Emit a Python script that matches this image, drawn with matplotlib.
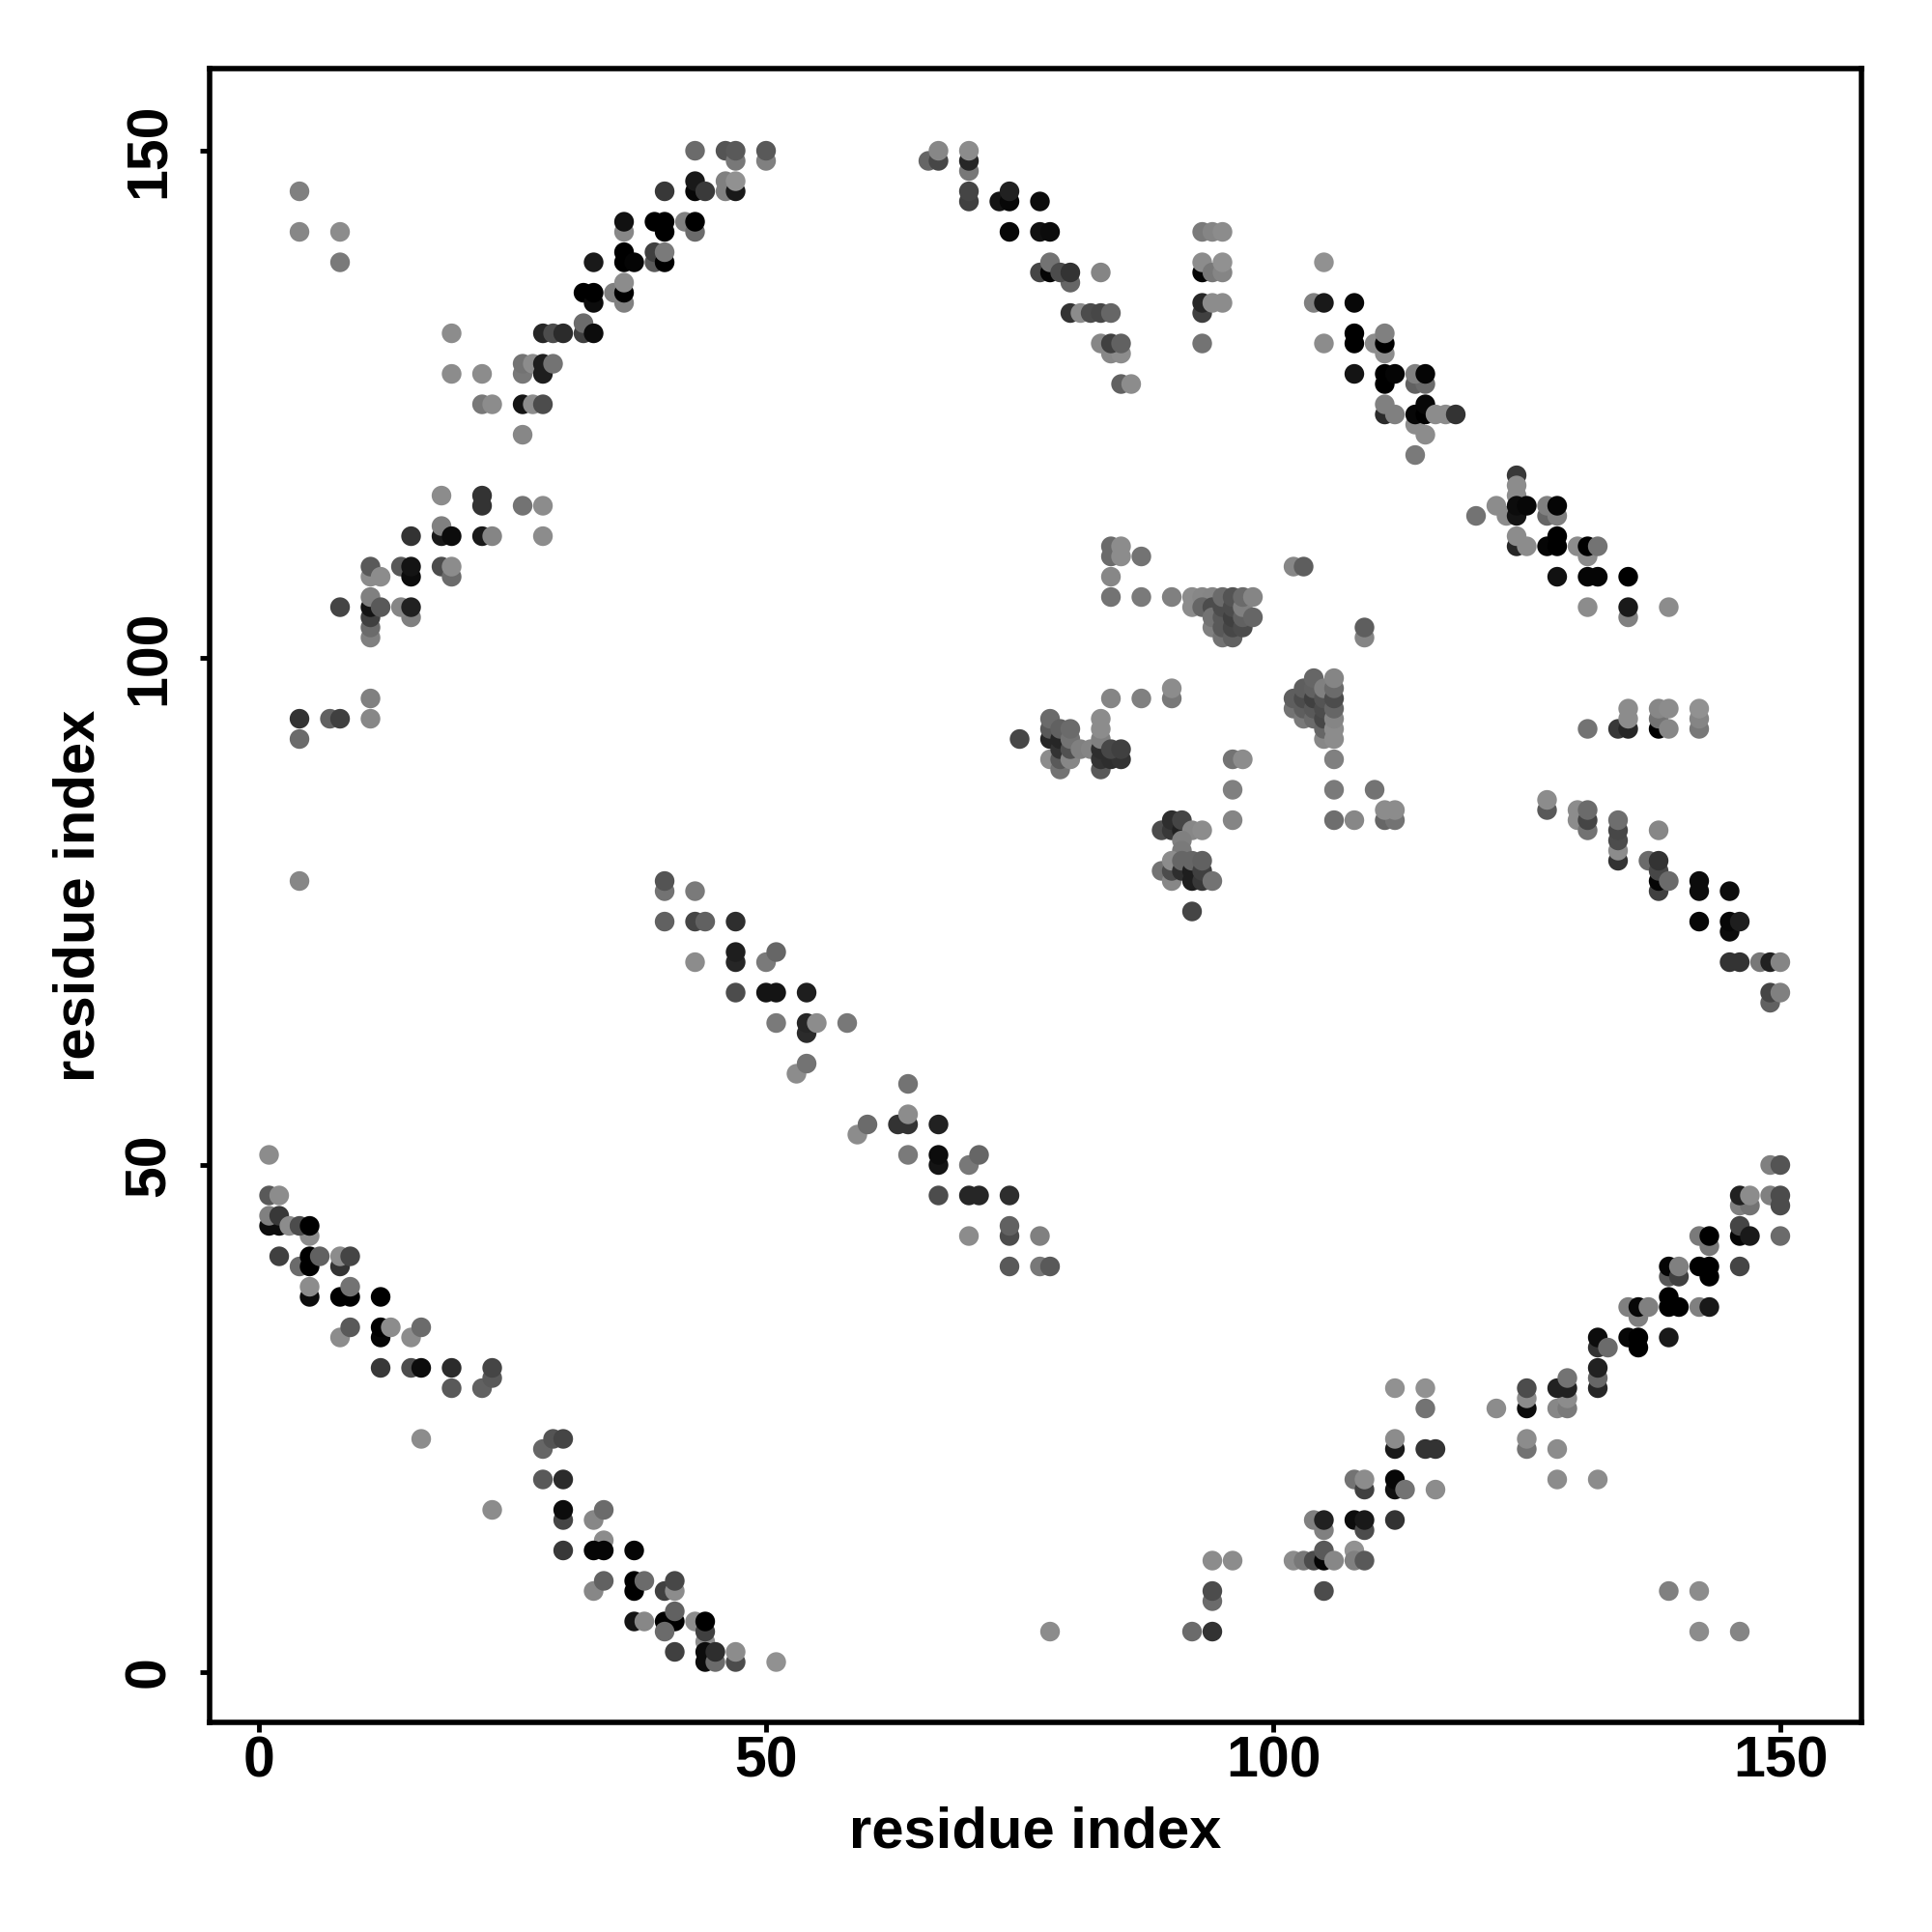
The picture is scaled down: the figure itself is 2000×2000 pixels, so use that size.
import numpy as np
import matplotlib
matplotlib.use('Agg')
import matplotlib.pyplot as plt

plt.rcParams['font.family'] = ['Liberation Sans', 'DejaVu Sans']
plt.rcParams['font.weight'] = 'bold'

# contacts per region of the map: (residue i, residue j, grey level)
low_left = [
    (1,51,.55),(1,47,.35),(2,47,.55),(1,44,.05),(2,44,.05),(1,45,.5),(2,45,.22),(5,43,.55),(3,44,.55),(4,44,.3),(5,44,0),
    (2,41,.25),(4,40,.42),(5,40,0),(5,41,0),(6,41,.38),(8,40,.2),(8,41,.55),(9,41,.27),
    (5,37,.05),(5,38,.55),(8,37,0),(9,37,0),(9,38,.45),(12,37,0),
    (8,33,.55),(9,34,.35),(12,33,.02),(12,34,0),(13,34,.55),(15,33,.55),(16,34,.42),
    (12,30,.22),(15,30,.3),(16,30,.05),(19,30,.17),(19,28,.35),(22,28,.38),(23,29,.35),(23,30,.27),
    (16,23,.55),(28,22,.4),(29,23,.33),(30,23,.27),(28,19,.35),(30,19,.17),
    (23,16,.55),(30,15,.27),(30,16,.05),(33,15,.53),(34,16,.42),(34,13,.55),
    (30,12,.22),(33,12,.02),(34,12,.02),(37,12,.02),(33,8,.53),(34,9,.38),
    (37,8,0),(37,9,0),(38,9,.42),(40,8,.25),(41,8,.55),(41,9,.28),
    (37,5,.08),(38,5,.53),(40,5,0),(41,5,0),(41,6,.38),(43,5,.55),(44,3,.55),(44,4,.25),(44,5,0),
    (41,2,.25),(40,4,.42),(44,1,.05),(44,2,.05),(45,1,.42),(45,2,.18),(47,1,.3),(47,2,.55),(51,1,.57),
]
up_left = [
    (4,146,.5),(4,142,.53),(8,142,.55),(8,139,.48),
    (43,150,.42),(46,150,.33),(47,149,.47),(47,150,.35),(50,149,.5),(50,150,.35),
    (40,146,.22),(43,146,.03),(43,147,.1),(44,146,.23),(46,146,.5),(46,147,.5),(47,146,.1),(47,147,.57),
    (36,142,.53),(36,143,.07),(39,143,0),(40,142,0),(40,143,0),(42,143,.5),(43,142,.42),(43,143,0),
    (33,139,.1),(36,139,0),(36,140,0),(37,139,.02),(39,139,.35),(39,140,.25),(40,139,0),(40,140,.48),
    (32,136,0),(33,135,.05),(33,136,0),(35,136,.5),(36,135,.5),(36,136,0),(36,137,.55),
    (19,132,.55),(28,132,.15),(29,132,.3),(30,132,.17),(32,132,.25),(32,133,.42),(33,132,.05),
    (19,128,.55),(22,128,.55),(26,128,.47),(26,129,.45),(27,129,.55),(28,128,.12),(28,129,.12),(29,129,.45),
    (22,125,.47),(23,125,.55),(26,125,.08),(27,125,.55),(28,125,.3),(26,122,.53),
    (18,116,.55),(22,115,.2),(22,116,.2),(26,115,.45),(28,115,.55),
    (15,112,.2),(18,112,.1),(18,113,.5),(19,112,.05),(22,112,.1),(23,112,.52),(28,112,.55),
    (11,108,.55),(11,109,.35),(12,108,.55),(14,109,.35),(15,108,.05),(15,109,.08),(18,109,.3),(19,108,.42),(19,109,.55),
    (8,105,.27),(11,102,.5),(11,103,.42),(11,104,.25),(11,105,.08),(11,106,.5),(12,105,.35),(15,104,.5),(14,105,.52),(15,105,.13),
    (11,96,.5),(11,94,.53),(4,92,.42),(4,94,.2),(7,94,.38),(8,94,.25),(4,78,.53),
]
middle_diag = [
    (40,77,.45),(40,78,.33),(43,77,.48),(40,74,.38),(43,74,.27),(44,74,.38),(47,74,.18),
    (43,70,.55),(47,70,.15),(47,71,.12),(50,70,.48),(51,71,.4),
    (47,67,.3),(50,67,.08),(51,67,.08),(54,67,.12),
    (51,64,.48),(54,63,.17),(54,64,.15),(55,64,.55),(58,64,.47),(53,59,.55),(54,60,.45),
    (64,58,.45),(63,54,.2),(64,54,.2),(64,55,.55),(59,53,.55),(60,54,.42),(67,54,.13),
    (64,51,.48),(67,50,.08),(67,51,.05),(70,50,.47),(71,51,.4),
    (67,47,.3),(70,47,.15),(71,47,.15),(74,47,.18),(70,43,.55),(74,43,.3),(74,44,.38),(77,43,.5),
    (74,40,.35),(77,40,.47),(78,40,.35),
]
up_right = [
    (66,149,.4),(67,149,.28),(67,150,.53),(70,148,.47),(70,149,.15),(70,150,.55),(70,145,.25),(70,146,.27),
    (73,145,.08),(74,145,.03),(74,146,.13),(77,145,.05),(74,142,.03),(77,142,.07),(78,142,.05),
    (77,138,.27),(78,138,.02),(78,139,.45),(80,137,.4),(79,138,.3),(80,138,.2),(83,138,.52),
    (80,134,.2),(81,134,.55),(82,134,.3),(83,134,.28),(84,134,.4),
    (83,131,.53),(84,130,.53),(85,130,.55),(84,131,.25),(85,131,.38),(85,127,.38),(86,127,.55),
    (93,142,.48),(94,142,.52),(95,142,.55),(93,138,.02),(93,139,.55),(94,138,.47),(95,138,.52),(95,139,.57),
    (93,134,.25),(93,135,.15),(94,135,.55),(95,135,.55),(93,131,.45),
    (105,139,.57),(104,135,.5),(105,135,.1),(108,135,.03),
    (105,131,.55),(108,131,0),(108,132,0),(110,131,.55),(111,130,.55),(111,131,0),(111,132,.5),
    (108,128,.08),(111,127,0),(111,128,0),(112,128,.02),(114,127,.38),(115,127,.42),(114,128,.5),(115,128,.02),
    (111,124,.17),(111,125,.5),(112,124,.5),(114,123,.55),(114,124,.03),(115,124,0),(115,125,.03),(116,124,.55),(117,124,.55),(118,124,.2),
    (115,122,.55),(114,120,.48),
    (124,118,.22),(124,117,.55),(124,116,.55),(120,114,.45),(122,115,.55),(123,114,.55),(124,114,.08),(124,115,.05),(125,115,.03),
    (127,114,.4),(127,115,.5),(128,114,.5),(128,115,.02),
    (124,111,.15),(124,112,.55),(125,111,.55),(127,111,.02),(128,111,0),(128,112,0),(130,111,.55),(131,110,.55),(131,111,0),(132,111,.45),
    (128,108,.07),(131,108,.02),(132,108,.02),(135,108,0),(131,105,.55),(135,104,.5),(135,105,.1),(139,105,.55),
    (131,93,.45),(134,93,.22),(135,93,.15),(135,94,.55),(135,95,.55),
    (138,93,0),(138,94,.45),(138,95,.53),(139,93,.53),(139,95,.55),(142,93,.47),(142,94,.52),(142,95,.57),
]
right_diag = [
    (127,85,.35),(127,86,.55),(130,84,.55),(130,85,.55),(131,83,.45),(131,84,.27),(131,85,.42),
    (134,80,.2),(134,81,.55),(134,82,.3),(134,83,.28),(134,84,.43),(138,83,.53),
    (137,80,.42),(138,77,.25),(138,78,.02),(138,79,.28),(138,80,.2),(139,78,.42),
    (142,77,.05),(142,78,.05),(145,77,.05),(142,74,.03),(145,73,.05),(145,74,.03),(146,74,.12),
    (145,70,.2),(146,70,.2),(148,70,.47),(149,70,.13),(150,70,.52),(149,66,.38),(149,67,.27),(150,67,.5),
]
low_right = [
    (149,50,.5),(150,50,.33),(146,46,.5),(147,46,.45),(146,47,.13),(147,47,.55),(149,47,.5),(150,46,.3),(150,47,.3),
    (146,43,.02),(146,44,.27),(147,43,.1),(150,43,.42),(142,43,.48),(143,42,.47),(143,43,0),
    (139,39,.35),(139,40,.02),(140,39,.25),(140,40,.5),(142,40,0),(143,39,0),(143,40,0),(146,40,.27),
    (135,36,.5),(136,35,.5),(136,36,.03),(137,36,.5),(139,36,0),(139,37,0),(140,36,0),(142,36,.5),(143,36,.1),(139,33,.1),
    (132,32,.2),(132,33,.05),(133,32,.42),(135,33,.03),(136,32,0),(136,33,0),
    (132,28,.15),(132,29,.4),(132,30,.13),(122,26,.55),(125,26,.05),(125,27,.55),(125,28,.3),
    (128,26,.53),(129,26,.48),(129,27,.55),(128,28,.13),(129,28,.13),(129,29,.45),
    (112,28,.57),(115,28,.57),(115,26,.45),(112,22,.1),(112,23,.55),(115,22,.2),(116,22,.2),
    (125,22,.45),(125,23,.55),(128,22,.55),(128,19,.55),(132,19,.55),
    (108,19,.45),(109,18,.25),(109,19,.55),(112,18,.07),(112,19,.03),(113,18,.45),(116,18,.55),
    (104,15,.5),(105,14,.5),(105,15,.13),(108,15,.05),(109,14,.3),(109,15,.1),(112,15,.2),
    (102,11,.55),(103,11,.47),(104,11,.3),(105,11,.02),(105,12,.35),(106,11,.53),(108,12,.57),(108,11,.5),(109,11,.35),
    (94,11,.55),(96,11,.55),(94,7,.42),(94,8,.3),(105,8,.3),(139,8,.5),(142,8,.55),
    (78,4,.55),(92,4,.42),(94,4,.2),(142,4,.55),(146,4,.52),
]
centre = [
    (84,111,.42),(84,110,.42),(85,111,.55),(85,110,.55),(87,110,.45),(84,108,.53),(84,106,.45),(87,106,.48),(90,106,.5),
    (102,109,.53),(103,109,.37),(109,102,.52),(109,103,.37),
    (92,105,.55),(92,106,.55),(93,106,.53),(94,106,.52),(93,105,.4),(94,105,.3),(94,103,.5),(94,104,.45),
    (95,102,.45),(95,103,.35),(95,104,.35),(95,105,.3),(95,106,.42),(96,102,.38),(96,103,.28),(96,104,.25),(96,105,.3),(96,106,.33),
    (97,103,.3),(97,104,.38),(97,105,.5),(97,106,.42),(98,104,.4),(98,106,.52),
    (84,96,.52),(87,96,.5),(90,96,.47),(90,97,.55),(75,92,.28),
    (78,90,.55),(78,92,.15),(78,93,.35),(78,94,.42),(79,89,.45),(79,90,.35),(79,91,.2),(79,92,.15),(79,93,.38),
    (80,90,.53),(80,91,.32),(80,92,.45),(80,93,.42),(81,91,.5),(82,91,.52),
    (83,89,.35),(83,90,.2),(83,91,.18),(83,92,.5),(83,93,.55),(83,94,.55),(84,90,.18),(85,90,.2),(84,91,.28),(85,91,.25),
    (102,95,.45),(102,96,.37),(103,94,.48),(103,95,.37),(103,96,.3),(103,97,.37),
    (104,94,.42),(104,95,.35),(104,96,.25),(104,97,.38),(104,98,.4),
    (105,92,.53),(105,93,.4),(105,94,.28),(105,95,.3),(105,96,.33),(105,97,.5),
    (106,92,.55),(106,93,.55),(106,94,.52),(106,95,.4),(106,96,.3),(106,97,.42),(106,98,.52),
    (106,90,.5),(106,87,.48),(110,87,.45),(106,84,.43),(108,84,.53),(111,84,.4),(112,84,.45),(111,85,.55),(112,85,.55),
    (96,90,.45),(97,90,.55),(96,87,.5),(96,84,.52),
    (89,83,.3),(90,83,.22),(90,84,.18),(91,83,.13),(91,84,.27),(92,83,.53),(93,83,.55),(91,82,.5),(91,81,.48),
    (89,79,.45),(90,78,.53),(90,79,.3),(90,80,.55),(91,79,.18),(91,80,.4),(92,78,.12),(92,79,.12),(92,80,.4),
    (93,78,.22),(93,79,.25),(93,80,.38),(94,78,.45),(92,75,.27),
]

contacts = np.array(low_left + up_left + middle_diag + up_right + right_diag + low_right + centre)
ticks = [0, 50, 100, 150]

fig = plt.figure(figsize=(20, 20), dpi=100)
ax = fig.add_axes([217/2000, 1 - 1783/2000, (1927-217)/2000, (1783-71)/2000])

# drawn in list order so later points sit on top
ax.scatter(contacts[:, 0], contacts[:, 1], c=contacts[:, 2], cmap='gray', vmin=0, vmax=1,
           s=215, linewidths=0, clip_on=False)

ax.set_xlim(-4.86, 158)
ax.set_ylim(-4.95, 158.1)
ax.set_xticks(ticks)
ax.set_yticks(ticks)
ax.tick_params(axis='both', length=7, width=3.5, labelsize=42.5)
ax.tick_params(axis='x', pad=3)
ax.tick_params(axis='y', pad=18)
for lab in ax.get_yticklabels():
    lab.set_rotation(90)
    lab.set_va('center')
for s in ax.spines.values():
    s.set_linewidth(4)

ax.set_xlabel('residue index', fontsize=43, fontweight='bold', labelpad=13)
ax.set_ylabel('residue index', fontsize=43, fontweight='bold', labelpad=13)

plt.savefig('out.png', dpi=100)
